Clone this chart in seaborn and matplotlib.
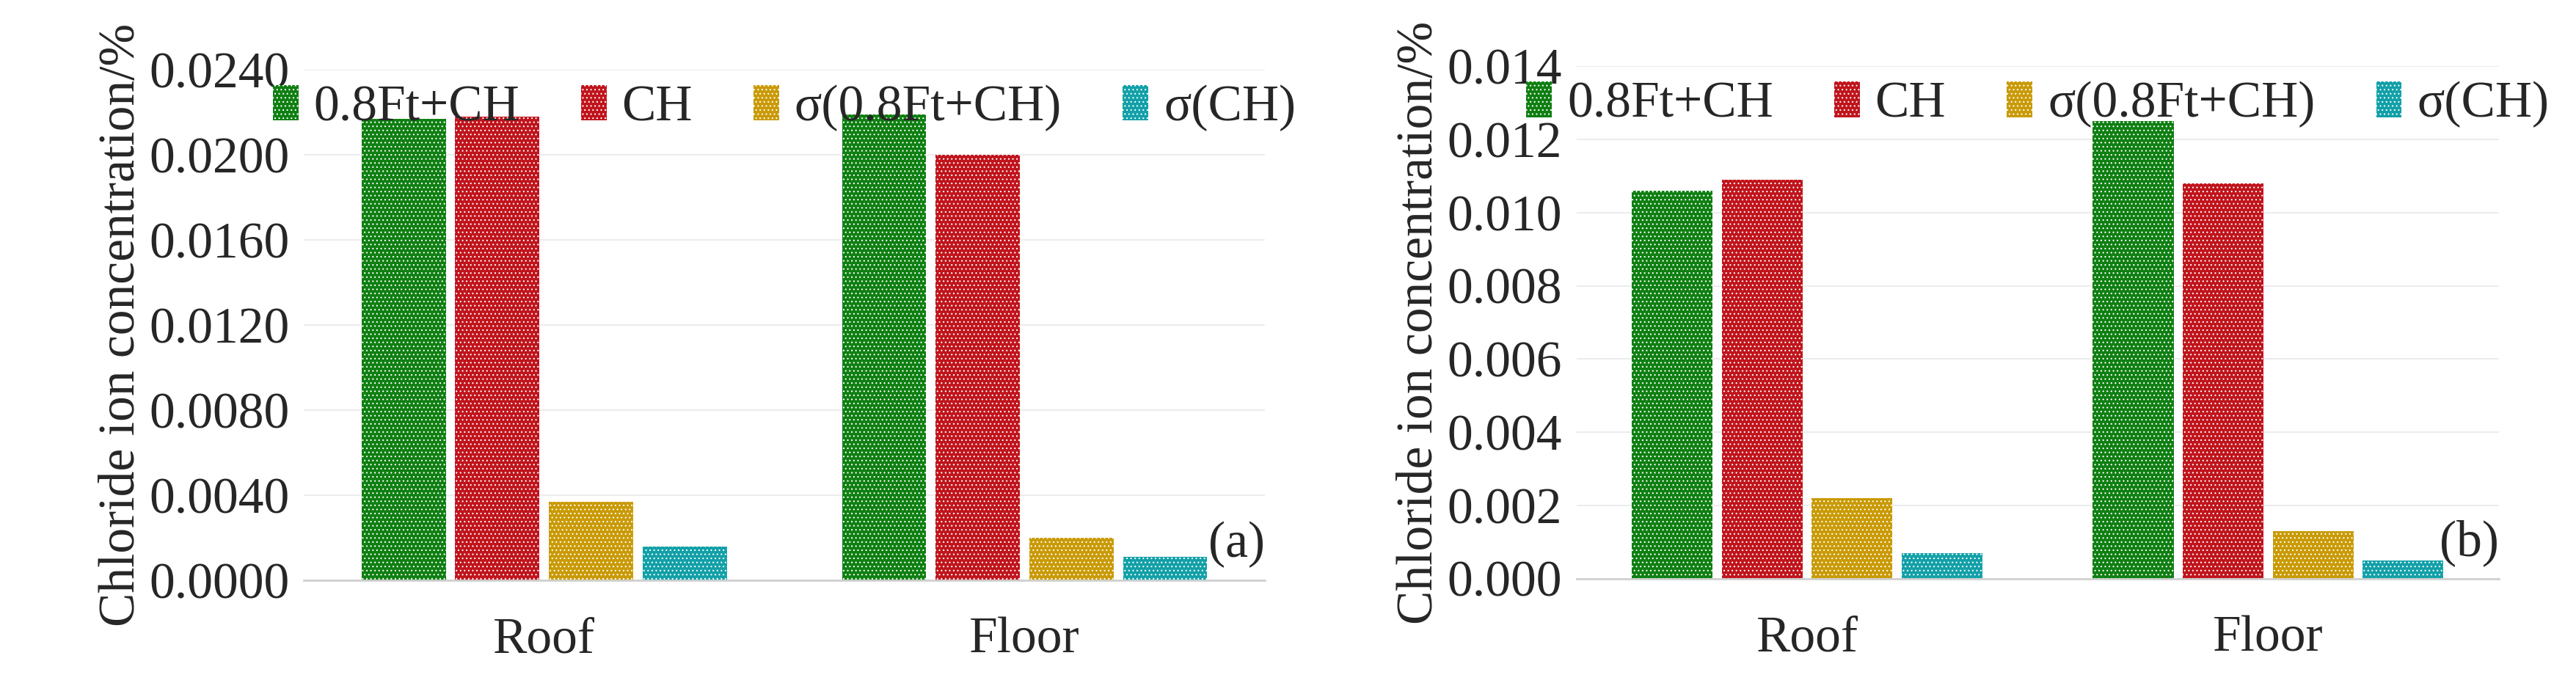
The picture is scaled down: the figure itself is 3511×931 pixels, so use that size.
import matplotlib
matplotlib.use("Agg")
import matplotlib.pyplot as plt
import seaborn as sns
import pandas as pd
import numpy as np

categories = ["Roof", "Floor"]
series = ["0.8Ft+CH", "CH", "σ(0.8Ft+CH)", "σ(CH)"]
colors = ["#0f7f12", "#c0141c", "#c99a06", "#12a0a8"]
vals_a = {"0.8Ft+CH": [0.0217, 0.0219], "CH": [0.0218, 0.0200],
          "σ(0.8Ft+CH)": [0.0037, 0.0020], "σ(CH)": [0.0016, 0.0011]}
vals_b = {"0.8Ft+CH": [0.0106, 0.0125], "CH": [0.0109, 0.0108],
          "σ(0.8Ft+CH)": [0.0022, 0.0013], "σ(CH)": [0.0007, 0.0005]}
ticks_a = [0.0, 0.004, 0.008, 0.012, 0.016, 0.020, 0.024]
ticks_b = [0.0, 0.002, 0.004, 0.006, 0.008, 0.010, 0.012, 0.014]

sns.set_theme(style="white")
plt.rcParams['font.family'] = ['Liberation Serif', 'DejaVu Serif']
plt.rcParams['hatch.color'] = '#e8e8e8'
plt.rcParams['hatch.linewidth'] = 0.8

fig = plt.figure(figsize=(35.11, 9.31), dpi=100)
axa = fig.add_axes([0.118, 0.15, 0.373, 0.748])
axb = fig.add_axes([0.612, 0.153, 0.358, 0.75])

FS = 50

def draw(ax, vals, ticks, fmt, label):
    df = pd.DataFrame([(c, s, vals[s][i]) for s in series for i, c in enumerate(categories)],
                      columns=["cat", "series", "val"])
    sns.barplot(data=df, x="cat", y="val", hue="series", palette=colors, ax=ax,
                width=0.78, gap=0.1, saturation=1, legend=True)
    for p in ax.patches:
        p.set_hatch("...")
        p.set_linewidth(0)
    ax.set_ylim(0, ticks[-1])
    ax.set_yticks(ticks)
    ax.set_yticklabels([fmt.format(t) for t in ticks], fontsize=FS)
    ax.tick_params(axis='x', labelsize=FS, pad=30)
    ax.tick_params(axis='y', pad=8)
    ax.set_xlabel("")
    ax.set_ylabel("Chloride ion concentration/%", fontsize=FS)
    ax.yaxis.grid(True, color="#ececec", lw=1.5)
    ax.set_axisbelow(True)
    for s in ["top", "right", "left"]:
        ax.spines[s].set_visible(False)
    ax.spines["bottom"].set_color("#d0d0d0")
    ax.spines["bottom"].set_linewidth(2)
    h, l = ax.get_legend_handles_labels()
    ax.legend(h, l, loc="upper center", bbox_to_anchor=(0.5, 1.06), ncol=4, frameon=False,
              fontsize=FS, handlelength=0.5, handleheight=0.7, columnspacing=1.2, handletextpad=0.3)
    ax.text(1.0, 0.07, label, transform=ax.transAxes, fontsize=FS, ha="right", va="center")

draw(axa, vals_a, ticks_a, "{:.4f}", "(a)")
draw(axb, vals_b, ticks_b, "{:.3f}", "(b)")

fig.savefig("out.png", dpi=100)
